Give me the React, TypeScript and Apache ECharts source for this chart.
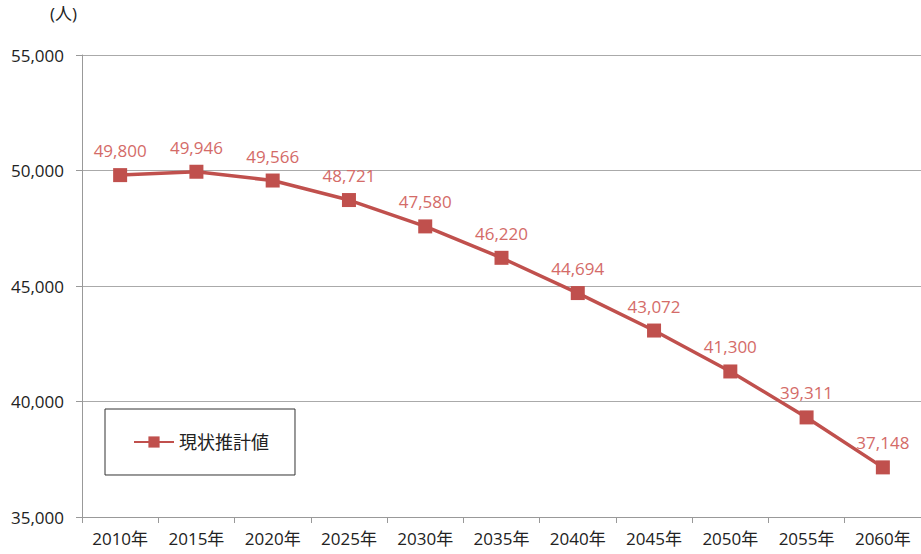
import React, { useEffect, useRef } from "react";
import * as echarts from "echarts";

const categories = ["2010年", "2015年", "2020年", "2025年", "2030年", "2035年", "2040年", "2045年", "2050年", "2055年", "2060年"];
const values = [49800, 49946, 49566, 48721, 47580, 46220, 44694, 43072, 41300, 39311, 37148];
const seriesName = "現状推計値";

const FONT = "'Open Sans', 'Noto Sans CJK JP', sans-serif";

export default function App() {
  const ref = useRef<HTMLDivElement>(null);
  useEffect(() => {
    if (!ref.current) return;
    const chart = echarts.init(ref.current, undefined, { renderer: "svg" });
    chart.setOption({
      animation: false,
      textStyle: { fontFamily: FONT },
      grid: { left: 82, right: -7, top: 55, bottom: 37, containLabel: false },
      graphic: [
        { type: "text", left: 50, top: 5, style: { text: "(人)", font: `17px ${FONT}`, fill: "#222" } },
      ],
      legend: {
        left: 105,
        top: 409,
        orient: "vertical",
        borderColor: "#333",
        borderWidth: 1,
        padding: [24, 26, 24, 28],
        itemWidth: 40,
        itemHeight: 14,
        itemGap: 6,
        textStyle: { fontSize: 18, color: "#222", fontFamily: FONT },
        data: [seriesName],
      },
      xAxis: {
        type: "category",
        data: categories,
        boundaryGap: true,
        axisLine: { lineStyle: { color: "#999" } },
        axisTick: { show: true, length: 6, lineStyle: { color: "#999" } },
        axisLabel: { color: "#222", fontSize: 17, margin: 13, fontFamily: FONT },
      },
      yAxis: {
        type: "value",
        min: 35000,
        max: 55000,
        interval: 5000,
        axisLine: { show: true, lineStyle: { color: "#999" } },
        axisTick: { show: true, length: 6, lineStyle: { color: "#999" } },
        splitLine: { lineStyle: { color: "#aaa" } },
        axisLabel: {
          color: "#222",
          fontSize: 17,
          margin: 18,
          fontFamily: FONT,
          formatter: (v: number) => v.toLocaleString("en-US"),
        },
      },
      series: [
        {
          name: seriesName,
          type: "line",
          data: values,
          symbol: "rect",
          symbolSize: 14,
          itemStyle: { color: "#C0504D" },
          lineStyle: { color: "#C0504D", width: 3.5 },
          label: {
            show: true,
            position: "top",
            distance: 9,
            color: "#D46B68",
            fontSize: 17,
            fontFamily: FONT,
            formatter: (p: any) => Number(p.value).toLocaleString("en-US"),
          },
        },
      ],
    });
    return () => chart.dispose();
  }, []);
  return <div ref={ref} style={{ width: 921, height: 554, position: "absolute", left: 0, top: 0 }} />;
}
